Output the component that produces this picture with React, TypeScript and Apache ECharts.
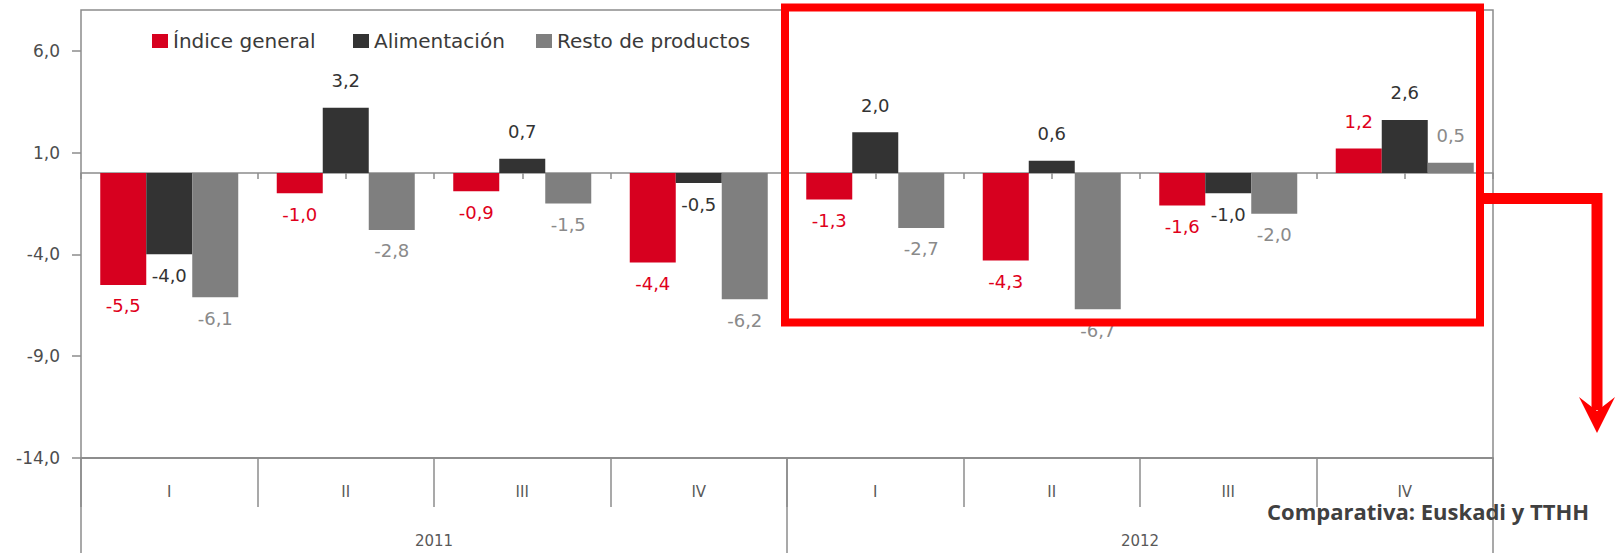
import React, { useEffect, useRef } from 'react';
import * as echarts from 'echarts';

// ---- data ----
const quarters = ['I', 'II', 'III', 'IV', 'I', 'II', 'III', 'IV'];
const years = ['2011', '2012'];
const seriesNames = ['Índice general', 'Alimentación', 'Resto de productos'];
const indiceGeneral = [-5.5, -1.0, -0.9, -4.4, -1.3, -4.3, -1.6, 1.2];
const alimentacion = [-4.0, 3.2, 0.7, -0.5, 2.0, 0.6, -1.0, 2.6];
const restoProductos = [-6.1, -2.8, -1.5, -6.2, -2.7, -6.7, -2.0, 0.5];
const yMin = -14;
const yMax = 8;
const yLabelTop = 6;
const yStep = 5;
const annotationText = 'Comparativa: Euskadi y TTHH';

const FONT = 'DejaVu Sans';
const barColors = ['#D7001F', '#333333', '#7F7F7F'];
const labelColors = ['#E0001B', '#333333', '#8A8A8A'];
const axisGray = '#8C8C8C';
const textGray = '#4D4D4D';

const fmt = (v: number) => v.toFixed(1).replace('.', ',');

const mkSeries = (name: string, values: number[], idx: number) => ({
  type: 'bar',
  name,
  xAxisIndex: 0,
  yAxisIndex: 0,
  barWidth: 46,
  barGap: '0%',
  itemStyle: { color: barColors[idx] },
  label: {
    show: true,
    color: labelColors[idx],
    fontSize: 18,
    fontFamily: FONT,
    formatter: (p: any) => fmt(p.value),
  },
  data: values.map((v) => ({
    value: v,
    label: { position: v >= 0 ? 'top' : 'bottom', distance: v >= 0 ? 18 : 12 },
  })),
});

export default function App() {
  const ref = useRef<HTMLDivElement>(null);
  useEffect(() => {
    document.body.style.margin = '0';
    const chart = echarts.init(ref.current!, null, { renderer: 'svg' });
    const legendLefts = [152, 353, 536];
    const option: any = {
      animation: false,
      backgroundColor: '#ffffff',
      legend: seriesNames.map((n, i) => ({
        data: [n],
        left: legendLefts[i],
        top: 31,
        padding: 0,
        itemWidth: 16,
        itemHeight: 14,
        icon: 'rect',
        textStyle: { fontFamily: FONT, fontSize: 20, color: '#3A3A3A' },
      })),
      grid: [
        {
          left: 81,
          right: 122,
          top: 10,
          bottom: 95,
          show: true,
          borderColor: axisGray,
          borderWidth: 1.5,
          backgroundColor: 'transparent',
        },
        {
          left: 81,
          right: 122,
          top: 10 + ((yMax - yLabelTop) / (yMax - yMin)) * 448,
          bottom: 95,
          show: false,
        },
      ],
      xAxis: [
        {
          type: 'category',
          gridIndex: 0,
          data: quarters,
          position: 'bottom',
          axisLine: { show: true, onZero: false, lineStyle: { color: axisGray, width: 1.5 } },
          axisTick: { show: true, length: 49, alignWithLabel: false, lineStyle: { color: axisGray, width: 1.5 } },
          axisLabel: { margin: 26, color: '#595959', fontFamily: FONT, fontSize: 15 },
        },
        {
          type: 'category',
          gridIndex: 0,
          data: years,
          position: 'bottom',
          axisLine: { show: true, onZero: false, lineStyle: { color: axisGray, width: 1.5 } },
          axisTick: { show: true, length: 95, alignWithLabel: false, lineStyle: { color: axisGray, width: 1.5 } },
          axisLabel: { margin: 75, color: '#595959', fontFamily: FONT, fontSize: 15 },
        },
        {
          type: 'category',
          gridIndex: 0,
          data: new Array(quarters.length * 2).fill(''),
          position: 'bottom',
          axisLine: { show: true, onZero: true, lineStyle: { color: axisGray, width: 1.5 } },
          axisTick: { show: true, length: 6, interval: 0, alignWithLabel: false, lineStyle: { color: axisGray, width: 1.5 } },
          axisLabel: { show: false },
        },
        {
          type: 'value',
          gridIndex: 1,
          min: 0,
          max: 1,
          show: false,
        },
      ],
      yAxis: [
        {
          type: 'value',
          gridIndex: 0,
          min: yMin,
          max: yMax,
          show: false,
          splitLine: { show: false },
        },
        {
          type: 'value',
          gridIndex: 1,
          min: 0,
          max: yLabelTop - yMin,
          interval: yStep,
          axisLine: { show: false },
          axisTick: { show: true, length: 9, lineStyle: { color: axisGray, width: 1.5 } },
          splitLine: { show: false },
          axisLabel: {
            margin: 21,
            color: textGray,
            fontFamily: FONT,
            fontSize: 17,
            formatter: (v: number) => fmt(v + yMin),
          },
        },
      ],
      series: [
        mkSeries(seriesNames[0], indiceGeneral, 0),
        mkSeries(seriesNames[1], alimentacion, 1),
        mkSeries(seriesNames[2], restoProductos, 2),
      ],
      graphic: [
        {
          type: 'rect',
          z: 100,
          shape: { x: 785, y: 7.5, width: 695, height: 315 },
          style: { fill: 'none', stroke: '#FF0000', lineWidth: 8 },
        },
        {
          type: 'polyline',
          z: 100,
          shape: { points: [[1484, 198.5], [1597, 198.5], [1597, 410]] },
          style: { fill: 'none', stroke: '#FF0000', lineWidth: 11, lineJoin: 'miter' },
        },
        {
          type: 'polygon',
          z: 100,
          shape: { points: [[1579, 397], [1597, 411], [1615, 397], [1597, 433]] },
          style: { fill: '#FF0000' },
        },
        {
          type: 'text',
          z: 100,
          x: 1267,
          y: 511,
          style: {
            text: annotationText,
            fontFamily: 'Open Sans',
            fontWeight: 'bold',
            fontSize: 22,
            fill: '#404040',
            verticalAlign: 'middle',
            align: 'left',
          },
        },
      ],
    };
    chart.setOption(option);
    return () => chart.dispose();
  }, []);
  return (
    <div
      ref={ref}
      style={{ position: 'absolute', left: 0, top: 0, width: 1615, height: 553 }}
    />
  );
}
